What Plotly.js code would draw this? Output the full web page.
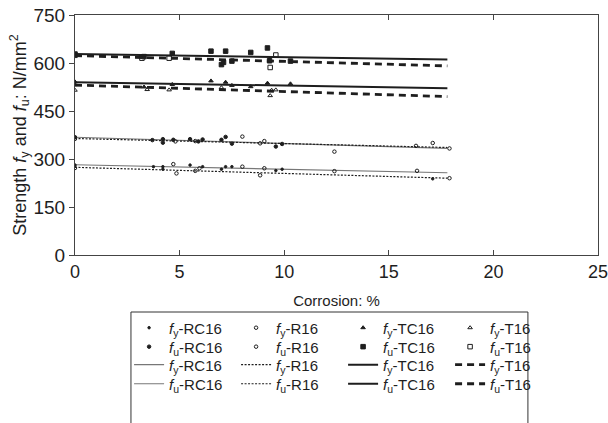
<!DOCTYPE html>
<html>
<head>
<meta charset="utf-8">
<script src="https://cdn.plot.ly/plotly-3.0.1.min.js"></script>
<style>html,body{margin:0;padding:0;background:#fff;}#chart{width:608px;height:423px;}</style>
</head>
<body>
<div id="chart"></div>
<script>
// ---- data ----
const fyRC16_x = [0, 3.75, 4.2, 4.2, 5.5, 6.1, 7.0, 7.2, 7.5, 9.6, 9.9, 17.1];
const fyRC16_y = [281, 276, 276, 268, 281, 276, 268, 276, 276, 264, 268, 238];
const fyR16_x = [0, 4.7, 4.85, 5.75, 5.95, 8.0, 8.85, 9.05, 12.4, 16.35, 17.9];
const fyR16_y = [272, 284, 255, 263, 271, 276, 249, 271, 262, 263, 240];
const fyTC16_x = [0, 3.3, 4.65, 6.5, 7.2, 7.5, 8.4, 9.2, 10.3];
const fyTC16_y = [541, 525, 533, 544, 540, 530, 526, 537, 535];
const fyT16_x = [0, 0, 3.45, 4.5, 7.0, 9.33, 9.4, 9.6];
const fyT16_y = [532, 515, 517, 516, 523, 498, 515, 516];

const fuRC16_x = [0, 3.7, 4.2, 4.2, 4.7, 5.5, 5.9, 6.1, 7.0, 7.2, 7.5, 9.6, 9.9];
const fuRC16_y = [368, 359, 362, 351, 360, 362, 355, 361, 360, 369, 348, 339, 347];
const fuR16_x = [0, 4.8, 5.75, 8.0, 8.85, 9.05, 12.4, 16.3, 17.1, 17.9];
const fuR16_y = [363, 355, 356, 370, 349, 356, 323, 341, 350, 333];
const fuTC16_x = [0, 3.3, 4.65, 6.5, 7.0, 7.1, 7.2, 7.5, 8.4, 9.2, 9.3, 10.3];
const fuTC16_y = [628, 620, 630, 637, 595, 602, 637, 606, 633, 647, 607, 606];
const fuT16_x = [0, 3.2, 4.5, 9.33, 9.6];
const fuT16_y = [624, 615, 615, 586, 625];

// regression lines (start / end)
const fitX = [0, 17.8];
const fitFyRC16 = [282, 257];
const fitFyR16 = [274, 240];
const fitFyTC16 = [540, 521];
const fitFyT16 = [531, 495];
const fitFuRC16 = [368, 333];
const fitFuR16 = [364, 336];
const fitFuTC16 = [628, 611];
const fitFuT16 = [623, 591];

const xTicks = [0, 5, 10, 15, 20, 25];
const yTicks = [0, 150, 300, 450, 600, 750];

const FY = '<i>f</i><sub>y</sub>';
const FU = '<i>f</i><sub>u</sub>';
const INK = '#1e1e1e';

function mk(name, x, y, symbol, size, legend) {
  return {type: 'scatter', mode: 'markers', name: name, x: x, y: y, legend: legend,
    marker: {symbol: symbol, size: size, color: INK, line: {color: INK, width: 1}}};
}
function ln(name, y, color, width, dash, legend) {
  return {type: 'scatter', mode: 'lines', name: name, x: fitX, y: y, legend: legend,
    line: {color: color, width: width, dash: dash}};
}

const traces = [
  ln(FY + '-RC16', fitFyRC16, '#777', 1.2, 'solid', 'legend3'),
  ln(FY + '-R16', fitFyR16, INK, 1.2, '2px,1.5px', 'legend3'),
  ln(FY + '-TC16', fitFyTC16, INK, 2, 'solid', 'legend3'),
  ln(FY + '-T16', fitFyT16, INK, 2.8, '7px,5px', 'legend3'),
  ln(FU + '-RC16', fitFuRC16, '#777', 1.2, 'solid', 'legend4'),
  ln(FU + '-R16', fitFuR16, INK, 1.2, '2px,1.5px', 'legend4'),
  ln(FU + '-TC16', fitFuTC16, INK, 2, 'solid', 'legend4'),
  ln(FU + '-T16', fitFuT16, INK, 2.8, '7px,5px', 'legend4'),
  mk(FY + '-RC16', fyRC16_x, fyRC16_y, 'circle', 2.5, 'legend'),
  mk(FY + '-R16', fyR16_x, fyR16_y, 'circle-open', 3.5, 'legend'),
  mk(FY + '-TC16', fyTC16_x, fyTC16_y, 'triangle-up', 4, 'legend'),
  mk(FY + '-T16', fyT16_x, fyT16_y, 'triangle-up-open', 4, 'legend'),
  mk(FU + '-RC16', fuRC16_x, fuRC16_y, 'circle', 3.5, 'legend2'),
  mk(FU + '-R16', fuR16_x, fuR16_y, 'circle-open', 3.5, 'legend2'),
  mk(FU + '-TC16', fuTC16_x, fuTC16_y, 'square', 4.5, 'legend2'),
  mk(FU + '-T16', fuT16_x, fuT16_y, 'square-open', 4.5, 'legend2')
];

const FONT = 'Liberation Sans, Arial, sans-serif';
function legendRow(y) {
  return {orientation: 'h', x: 0.1034, xanchor: 'left', y: y, yanchor: 'middle',
    entrywidth: 62, entrywidthmode: 'pixels', itemwidth: 30,
    bgcolor: 'rgba(0,0,0,0)', borderwidth: 0, tracegroupgap: 0,
    font: {family: FONT, size: 15, color: INK}};
}

const layout = {
  width: 608, height: 423,
  margin: {l: 75, r: 10, t: 15, b: 168},
  paper_bgcolor: '#fff', plot_bgcolor: '#fff',
  font: {family: FONT, size: 15, color: INK},
  showlegend: true,
  xaxis: {range: [0, 25], tickvals: xTicks, ticktext: xTicks.map(String),
    ticks: 'inside', ticklen: 5, tickcolor: '#444', showline: true, linecolor: '#444', linewidth: 1,
    mirror: 'ticks', showgrid: false, zeroline: false, ticklabeloverflow: 'allow',
    tickfont: {family: FONT, size: 18, color: INK},
    title: {text: 'Corrosion: %', font: {family: FONT, size: 15, color: INK}, standoff: 14}},
  yaxis: {range: [0, 750], tickvals: yTicks, ticktext: yTicks.map(String),
    ticks: 'outside', ticklen: 5, tickcolor: '#444', showline: true, linecolor: '#444', linewidth: 1,
    mirror: true, showgrid: false, zeroline: false, ticklabeloverflow: 'allow',
    tickfont: {family: FONT, size: 19, color: INK},
    title: {text: 'Strength ' + FY + ' and ' + FU + ': N/mm<sup>2</sup>', font: {family: FONT, size: 18, color: INK}, standoff: 2}},
  legend: legendRow(-0.304),
  legend2: legendRow(-0.383),
  legend3: legendRow(-0.458),
  legend4: legendRow(-0.5375),
  shapes: [{type: 'path', xref: 'paper', yref: 'paper',
    path: 'M 0.107,-0.73 L 0.107,-0.2375 L 0.866,-0.2375 L 0.866,-0.73',
    line: {color: '#333', width: 1}}]
};

Plotly.newPlot('chart', traces, layout, {staticPlot: true, displayModeBar: false});
</script>
</body>
</html>
